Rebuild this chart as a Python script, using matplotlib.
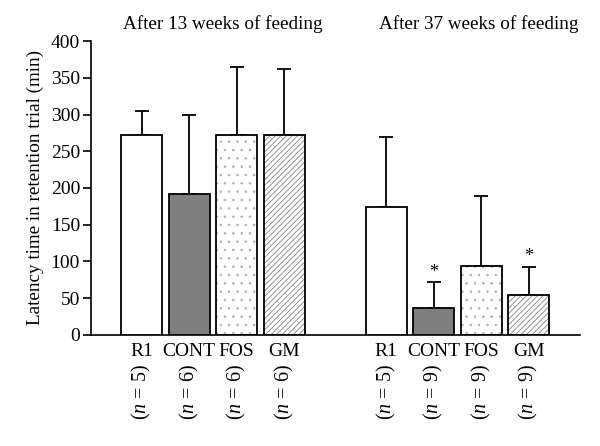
import numpy as np
import matplotlib
matplotlib.use("Agg")
import matplotlib.pyplot as plt

plt.rcParams['font.family'] = ['Liberation Serif', 'DejaVu Serif']
plt.rcParams['mathtext.fontset'] = 'custom'
plt.rcParams['mathtext.rm'] = 'Liberation Serif'
plt.rcParams['mathtext.it'] = 'Liberation Serif:italic'
plt.rcParams['hatch.linewidth'] = 0.6

# data
groups = ["R1", "CONT", "FOS", "GM"]
n_13 = [5, 6, 6, 6]
n_37 = [5, 9, 9, 9]
mean_13 = [272, 192, 272, 272]
err_13 = [33, 108, 92, 90]
mean_37 = [174, 37, 94, 55]
err_37 = [95, 35, 95, 38]
signif_37 = [False, True, False, True]
titles = ["After 13 weeks of feeding", "After 37 weeks of feeding"]

fills = ["white", "#7f7f7f", "white", "white"]
hatches = [None, None, "..", "//////"]
hatch_cols = [None, None, "#b0b0b0", "#808080"]

fig = plt.figure(figsize=(6, 4.46), dpi=100)
ax = fig.add_axes([0.152, 0.249, 0.815, 0.659])

gap = 2.15
x13 = np.arange(4)
x37 = np.arange(4) + 3 + gap
w = 0.86

for xs, means, errs in [(x13, mean_13, err_13), (x37, mean_37, err_37)]:
    for i in range(4):
        if hatches[i]:
            ax.bar(xs[i], means[i], w, color="white", edgecolor=hatch_cols[i],
                   hatch=hatches[i], linewidth=0, zorder=2)
            ax.bar(xs[i], means[i], w, color="none", edgecolor="black",
                   linewidth=1.3, zorder=3)
        else:
            ax.bar(xs[i], means[i], w, color=fills[i], edgecolor="black",
                   linewidth=1.3, zorder=3)
    ax.errorbar(xs, means, yerr=[np.zeros(4), errs], fmt="none", ecolor="black",
                elinewidth=1.3, capsize=5, capthick=1.3, zorder=1)

for i in range(4):
    if signif_37[i]:
        ax.text(x37[i], mean_37[i] + err_37[i] + 2, "*", ha="center", va="bottom",
                fontsize=13)

ax.set_xlim(-1.06, x37[-1] + 1.08)
ax.set_ylim(0, 400)
ax.set_yticks(np.arange(0, 401, 50))
ax.tick_params(axis="y", labelsize=14, direction="out", length=6, width=1.2, pad=2)
ax.set_xticks([])
for s in ["top", "right"]:
    ax.spines[s].set_visible(False)
ax.spines["left"].set_linewidth(1.2)
ax.spines["bottom"].set_linewidth(1.2)
ax.set_ylabel("Latency time in retention trial (min)", fontsize=13.8, labelpad=5)

for xs, ns in [(x13, n_13), (x37, n_37)]:
    for i in range(4):
        ax.text(xs[i], -11, groups[i], ha="center", va="top", fontsize=14,
                clip_on=False)
        ax.text(xs[i], -40, r"($n$ = %d)" % ns[i], ha="center", va="top",
                fontsize=14.5, rotation=90, clip_on=False)

ax.text(1.70, 411, titles[0], ha="center", va="bottom", fontsize=13.8)
ax.text(7.09, 411, titles[1], ha="center", va="bottom", fontsize=13.8)

fig.savefig("out.png", dpi=100)
